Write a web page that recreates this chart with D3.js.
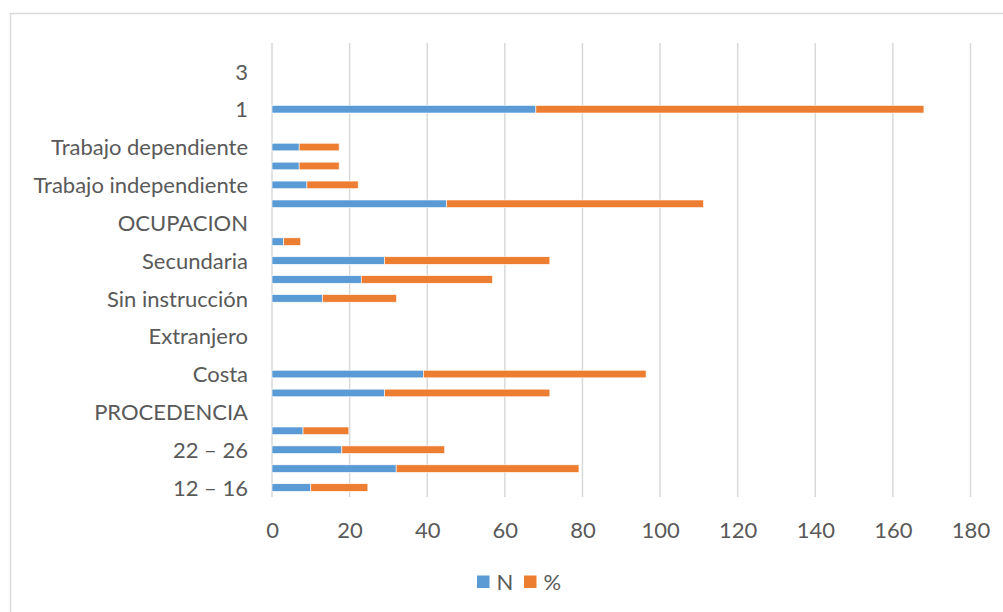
<!DOCTYPE html>
<html>
<head>
<meta charset="utf-8">
<script src="https://cdn.jsdelivr.net/npm/d3@7"></script>
<style>
  html, body { margin: 0; padding: 0; background: #fff; }
  svg { display: block; }
  text { font-family: Lato, "Open Sans", sans-serif; fill: #595959; }
</style>
</head>
<body>
<svg id="chart" width="1003" height="612"></svg>
<script>
// Categories listed from the bottom row upwards (Excel-style category order)
const categories = [
  "12 – 16", "17 – 21", "22 – 26", "27 – 31",
  "PROCEDENCIA", "Sierra", "Costa", "Selva", "Extranjero",
  "GRADO DE INSTRUCCION", "Sin instrucción", "Primaria", "Secundaria", "Superior",
  "OCUPACION", "Ama de casa", "Trabajo independiente", "Estudiante", "Trabajo dependiente",
  "TOTAL", "1", "2", "3", "4"
];
// Frequencies
const nValues = [
  10, 32, 18, 8,
  0, 29, 39, 0, 0,
  0, 13, 23, 29, 3,
  0, 45, 9, 7, 7,
  0, 68, 0, 0, 0
];
// Percentages
const pctValues = [
  14.7, 47.1, 26.5, 11.8,
  0, 42.6, 57.4, 0, 0,
  0, 19.1, 33.8, 42.6, 4.4,
  0, 66.2, 13.2, 10.3, 10.3,
  0, 100, 0, 0, 0
];
const seriesNames = ["N", "%"];
const seriesColors = ["#5B9BD5", "#ED7D31"];
const xTicks = [0, 20, 40, 60, 80, 100, 120, 140, 160, 180];

const svg = d3.select("#chart");
const plot = { left: 272, right: 970.5, top: 43, bottom: 497 };
const fontSize = 22;
const fontFamily = "Lato, 'Open Sans', sans-serif";

// Outer chart border
svg.append("rect")
  .attr("x", 10.5).attr("y", 13.5)
  .attr("width", 1100).attr("height", 700)
  .attr("fill", "#fff")
  .attr("stroke", "#D9D9D9").attr("stroke-width", 1.5);

const x = d3.scaleLinear().domain([0, 180]).range([plot.left, plot.right]);
const y = d3.scaleBand()
  .domain(d3.range(categories.length))
  .range([plot.bottom, plot.top])
  .paddingInner(0.6).paddingOuter(0.3);

// Vertical gridlines
svg.append("g")
  .selectAll("line")
  .data(xTicks)
  .join("line")
  .attr("x1", d => x(d)).attr("x2", d => x(d))
  .attr("y1", plot.top).attr("y2", plot.bottom)
  .attr("stroke", "#D9D9D9").attr("stroke-width", 1.5);

// Value axis labels
const xAxis = d3.axisBottom(x).tickValues(xTicks).tickSize(0).tickPadding(0);
const gx = svg.append("g")
  .attr("transform", `translate(0,${plot.bottom})`)
  .call(xAxis);
gx.select(".domain").remove();
gx.selectAll("text")
  .attr("y", 33)
  .attr("dy", "0.35em")
  .style("font-size", fontSize + "px")
  .style("font-family", fontFamily)
  .attr("fill", "#595959");

// Category labels: every other category is labelled
const bandCenter = i => y(i) + y.bandwidth() / 2;
const yAxis = d3.axisLeft(d3.scalePoint()
    .domain(d3.range(categories.length))
    .range([bandCenter(0), bandCenter(categories.length - 1)]))
  .tickValues(d3.range(0, categories.length, 2))
  .tickFormat(i => categories[i])
  .tickSize(0).tickPadding(0);
const gy = svg.append("g")
  .attr("transform", `translate(${plot.left - 24},0)`)
  .call(yAxis);
gy.select(".domain").remove();
gy.selectAll("text")
  .attr("dy", "0.35em")
  .style("font-size", fontSize + "px")
  .style("font-family", fontFamily)
  .attr("fill", "#595959");

// Stacked bars
const rows = categories.map((c, i) => ({ i, N: nValues[i], "%": pctValues[i] }));
const stack = d3.stack().keys(seriesNames)(rows);
const barH = 7.6;
svg.append("g")
  .selectAll("g")
  .data(stack)
  .join("g")
  .attr("fill", (d, k) => seriesColors[k])
  .selectAll("rect")
  .data(d => d.filter(s => s[1] - s[0] > 0))
  .join("rect")
  .attr("x", s => x(s[0]))
  .attr("width", s => x(s[1]) - x(s[0]))
  .attr("y", s => bandCenter(s.data.i) - barH / 2)
  .attr("height", barH)
  .attr("stroke", "#fff").attr("stroke-width", 0.6);

// Legend
const legend = svg.append("g").attr("transform", "translate(477,575.5)");
const items = legend.selectAll("g")
  .data(seriesNames)
  .join("g")
  .attr("transform", (d, k) => `translate(${k * 47},0)`);
items.append("rect")
  .attr("width", 12.5).attr("height", 12.5)
  .attr("fill", (d, k) => seriesColors[k]);
items.append("text")
  .attr("x", 19.5).attr("y", 6.5).attr("dy", "0.35em")
  .style("font-size", fontSize + "px")
  .text(d => d);
</script>
</body>
</html>
